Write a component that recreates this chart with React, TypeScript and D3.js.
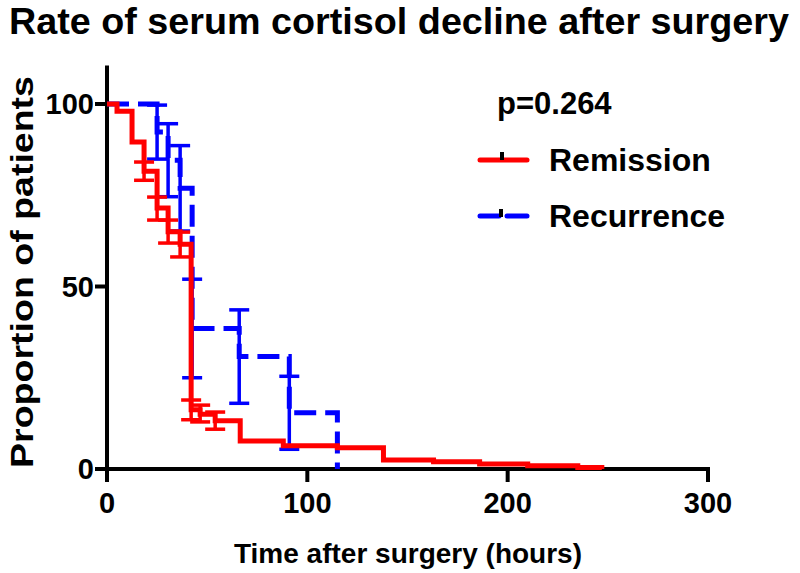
import React from 'react';
import * as d3 from 'd3';

// Remission (red) Kaplan-Meier steps
const remissionTime = [0, 5, 12.5, 18.5, 25, 30.5, 36.5, 42, 46.5, 54, 66.5, 88, 115, 138, 163, 186, 210, 235, 247];
const remissionSurv = [100, 98, 89.6, 81.6, 71.5, 65, 61.6, 16.2, 15.0, 13.2, 7.7, 6.4, 5.8, 2.5, 2.0, 1.4, 0.9, 0.4, 0];
const remissionLow = [100, 98, 89.6, 79.1, 68.2, 61.9, 58.1, 13.5, 12.9, 10.9, 7.7, 6.4, 5.8, 2.5, 2.0, 1.4, 0.9, 0.4, 0];
const remissionHigh = [100, 98, 89.6, 84.1, 74.5, 68.2, 64.9, 18.9, 17.5, 15.6, 7.7, 6.4, 5.8, 2.5, 2.0, 1.4, 0.9, 0.4, 0];

// Recurrence (blue) Kaplan-Meier steps
const recurrenceTime = [0, 25, 30.5, 36.5, 42.5, 66, 91, 115];
const recurrenceSurv = [100, 92.3, 84.6, 76.9, 38.5, 30.8, 15.4, 0];
const recurrenceLow = [100, 84.9, 74.6, 65.2, 25.0, 18.0, 5.4, 0];
const recurrenceHigh = [100, 99.7, 94.6, 88.6, 52.0, 43.6, 25.4, 0];

const xTickValues = [0, 100, 200, 300];
const yTickValues = [0, 50, 100];
const seriesNames = ['Remission', 'Recurrence'];
const pValueText = 'p=0.264';
const titleText = 'Rate of serum cortisol decline after surgery';
const xLabelText = 'Time after surgery (hours)';
const yLabelText = 'Proportion of patients';

const RED = '#ff0000';
const BLUE = '#0000ff';
const FONT = '"Liberation Sans", Arial, Helvetica, sans-serif';

export default function App() {
  const W = 800;
  const H = 573;
  const x = d3.scaleLinear().domain([0, 300]).range([107, 708]);
  const y = d3.scaleLinear().domain([0, 110]).range([469, 67.5]);
  const line = d3
    .line<[number, number]>()
    .x((d) => x(d[0]))
    .y((d) => y(d[1]))
    .curve(d3.curveStepAfter);

  const redPts: [number, number][] = remissionTime.map((t, i) => [t, remissionSurv[i]]);
  const bluePts: [number, number][] = recurrenceTime.map((t, i) => [t, recurrenceSurv[i]]);

  const errBars = (times: number[], lo: number[], hi: number[], color: string, key: string) =>
    times.map((t, i) => {
      if (lo[i] === hi[i]) return null;
      const cx = x(t);
      return (
        <g key={key + i} stroke={color} strokeWidth={3.5} fill="none">
          <line x1={cx} x2={cx} y1={y(lo[i])} y2={y(hi[i])} />
          <line x1={cx - 10} x2={cx + 10} y1={y(lo[i])} y2={y(lo[i])} />
          <line x1={cx - 10} x2={cx + 10} y1={y(hi[i])} y2={y(hi[i])} />
        </g>
      );
    });

  return (
    <svg
      width={W}
      height={H}
      style={{ position: 'absolute', left: 0, top: 0, background: '#fff' }}
      fontFamily={FONT}
      fontWeight="bold"
    >
      <rect width={W} height={H} fill="#fff" />
      <text x={399} y={34} fontSize={36} textAnchor="middle" fill="#000" textLength={780} lengthAdjust="spacingAndGlyphs">
        {titleText}
      </text>

      {/* axes */}
      <g stroke="#000" strokeWidth={4} strokeLinecap="square">
        <line x1={x(0)} x2={x(0)} y1={y(110)} y2={y(0)} />
        <line x1={x(0)} x2={x(300)} y1={y(0)} y2={y(0)} />
        {yTickValues.map((v) => (
          <line key={'yt' + v} x1={x(0) - 10} x2={x(0)} y1={y(v)} y2={y(v)} />
        ))}
        {xTickValues.map((v) => (
          <line key={'xt' + v} x1={x(v)} x2={x(v)} y1={y(0)} y2={y(0) + 11} />
        ))}
      </g>
      {yTickValues.map((v) => (
        <text key={'yl' + v} x={x(0) - 13} y={y(v) + 10} fontSize={29} textAnchor="end" fill="#000">
          {v}
        </text>
      ))}
      {xTickValues.map((v) => (
        <text key={'xl' + v} x={x(v)} y={513} fontSize={29} textAnchor="middle" fill="#000">
          {v}
        </text>
      ))}
      <text x={408} y={563} fontSize={28} textAnchor="middle" fill="#000">
        {xLabelText}
      </text>
      <text transform="translate(33,272) rotate(-90)" fontSize={31} textAnchor="middle" fill="#000" textLength={392} lengthAdjust="spacingAndGlyphs">
        {yLabelText}
      </text>

      {/* recurrence */}
      {errBars(recurrenceTime, recurrenceLow, recurrenceHigh, BLUE, 'be')}
      <path d={line(bluePts) || ''} fill="none" stroke={BLUE} strokeWidth={5} strokeDasharray="22,9" />

      {/* remission */}
      {errBars(remissionTime, remissionLow, remissionHigh, RED, 're')}
      <path d={line(redPts) || ''} fill="none" stroke={RED} strokeWidth={5} />

      {/* legend */}
      <text x={497} y={114} fontSize={31} fill="#000">
        {pValueText}
      </text>
      <line x1={480} x2={527} y1={160} y2={160} stroke={RED} strokeWidth={5} strokeLinecap="round" />
      <rect x={500} y={152} width={4} height={8} fill="#000" />
      <text x={549} y={171} fontSize={32} fill="#000">
        {seriesNames[0]}
      </text>
      <line x1={480} x2={499} y1={216} y2={216} stroke={BLUE} strokeWidth={5} strokeLinecap="round" />
      <line x1={507} x2={527} y1={216} y2={216} stroke={BLUE} strokeWidth={5} strokeLinecap="round" />
      <rect x={499} y={209} width={4} height={8} fill="#000" />
      <text x={549} y={227} fontSize={32} fill="#000">
        {seriesNames[1]}
      </text>
    </svg>
  );
}
